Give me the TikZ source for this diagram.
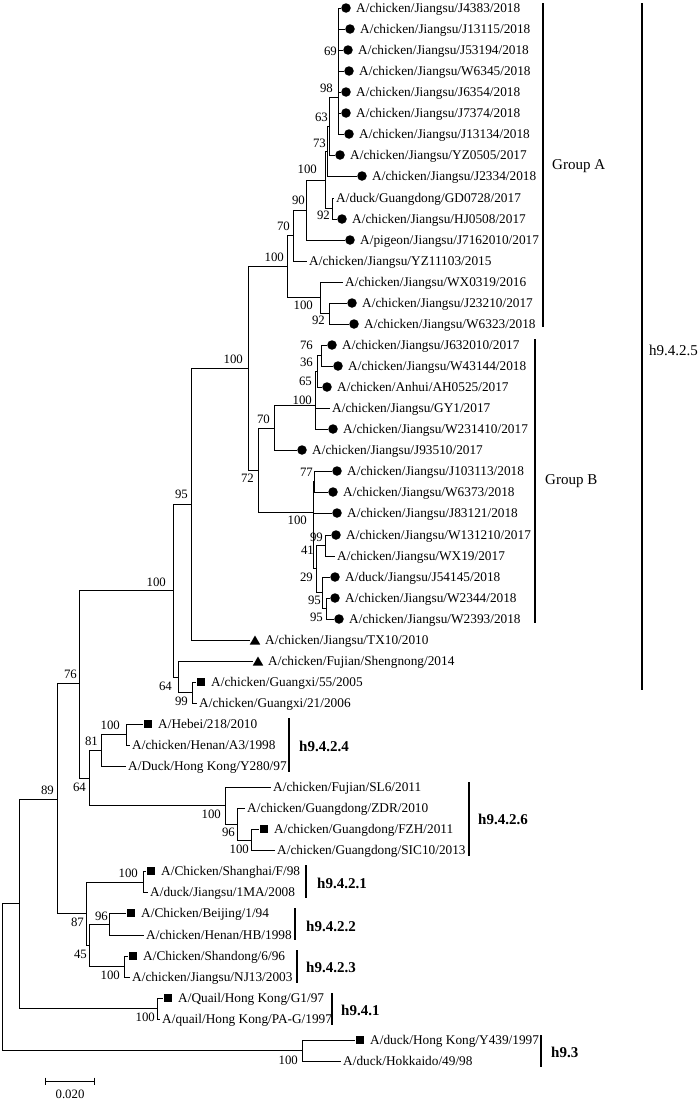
\documentclass[tikz,border=0pt]{standalone}
\usepackage{fontspec}
\setmainfont{Liberation Serif}
\usetikzlibrary{shapes.geometric}
\tikzset{
  br/.style={line width=1pt, black},
  leaflbl/.style={anchor=base west, inner sep=0pt, font=\fontsize{13.3}{14}\selectfont},
  bs/.style={anchor=base east, inner sep=0pt, font=\fontsize{12.8}{13}\selectfont},
  cmark/.style={circle, fill=black, inner sep=0pt, minimum size=9.5pt},
  smark/.style={rectangle, fill=black, inner sep=0pt, minimum size=8.5pt},
  tmark/.style={regular polygon, regular polygon sides=3, fill=black, inner sep=0pt, minimum size=12pt, yshift=-1.5pt},
  cbar/.style={line width=1.3pt},
  clbl/.style={anchor=west, inner sep=0pt, font=\fontsize{15}{16}\selectfont},
  clblb/.style={anchor=west, inner sep=0pt, font=\bfseries\fontsize{15}{16}\selectfont},
}
\newcommand\leafm[5]{\coordinate (t#1) at ({#3-15},#2); \node[#4] (m#1) at ({#3-10},#2) {}; \node[leaflbl] (l#1) at (#3,{#2+4.4}) {#5};}
\newcommand\leafn[4]{\coordinate (t#1) at ({#3-2},#2); \node[leaflbl] (l#1) at (#3,{#2+4.4}) {#4};}
\newcommand\bsv[4]{\node[bs] (b#1) at (#2,{#3+4.3}) {#4};}
\begin{document}
\begin{tikzpicture}[x=1pt,y=-1pt]
\useasboundingbox (0,0) rectangle (700,1100);
% leaves
\leafm{1}{8}{356}{cmark}{A/chicken/Jiangsu/J4383/2018}
\leafm{2}{29}{360}{cmark}{A/chicken/Jiangsu/J13115/2018}
\leafm{3}{50}{358}{cmark}{A/chicken/Jiangsu/J53194/2018}
\leafm{4}{71}{359}{cmark}{A/chicken/Jiangsu/W6345/2018}
\leafm{5}{92}{356}{cmark}{A/chicken/Jiangsu/J6354/2018}
\leafm{6}{113}{356}{cmark}{A/chicken/Jiangsu/J7374/2018}
\leafm{7}{134}{359}{cmark}{A/chicken/Jiangsu/J13134/2018}
\leafm{8}{155}{350}{cmark}{A/chicken/Jiangsu/YZ0505/2017}
\leafm{9}{176}{372}{cmark}{A/chicken/Jiangsu/J2334/2018}
\leafn{10}{198}{336}{A/duck/Guangdong/GD0728/2017}
\leafm{11}{219}{352}{cmark}{A/chicken/Jiangsu/HJ0508/2017}
\leafm{12}{240}{360}{cmark}{A/pigeon/Jiangsu/J7162010/2017}
\leafn{13}{261}{309}{A/chicken/Jiangsu/YZ11103/2015}
\leafn{14}{282}{345}{A/chicken/Jiangsu/WX0319/2016}
\leafm{15}{303}{362}{cmark}{A/chicken/Jiangsu/J23210/2017}
\leafm{16}{324}{364}{cmark}{A/chicken/Jiangsu/W6323/2018}
\leafm{17}{345}{342}{cmark}{A/chicken/Jiangsu/J632010/2017}
\leafm{18}{366}{348}{cmark}{A/chicken/Jiangsu/W43144/2018}
\leafm{19}{387}{337}{cmark}{A/chicken/Anhui/AH0525/2017}
\leafn{20}{408}{332}{A/chicken/Jiangsu/GY1/2017}
\leafm{21}{429}{343}{cmark}{A/chicken/Jiangsu/W231410/2017}
\leafm{22}{450}{312}{cmark}{A/chicken/Jiangsu/J93510/2017}
\leafm{23}{471}{347}{cmark}{A/chicken/Jiangsu/J103113/2018}
\leafm{24}{492}{343}{cmark}{A/chicken/Jiangsu/W6373/2018}
\leafm{25}{513}{347}{cmark}{A/chicken/Jiangsu/J83121/2018}
\leafm{26}{535}{346}{cmark}{A/chicken/Jiangsu/W131210/2017}
\leafn{27}{556}{337}{A/chicken/Jiangsu/WX19/2017}
\leafm{28}{577}{345}{cmark}{A/duck/Jiangsu/J54145/2018}
\leafm{29}{598}{345}{cmark}{A/chicken/Jiangsu/W2344/2018}
\leafm{30}{619}{349}{cmark}{A/chicken/Jiangsu/W2393/2018}
\leafm{31}{640}{265}{tmark}{A/chicken/Jiangsu/TX10/2010}
\leafm{32}{661}{268}{tmark}{A/chicken/Fujian/Shengnong/2014}
\leafm{33}{682}{211}{smark}{A/chicken/Guangxi/55/2005}
\leafn{34}{703}{199}{A/chicken/Guangxi/21/2006}
\leafm{35}{724}{158}{smark}{A/Hebei/218/2010}
\leafn{36}{745}{132}{A/chicken/Henan/A3/1998}
\leafn{37}{766}{128}{A/Duck/Hong Kong/Y280/97}
\leafn{38}{787}{273}{A/chicken/Fujian/SL6/2011}
\leafn{39}{808}{247}{A/chicken/Guangdong/ZDR/2010}
\leafm{40}{829}{274}{smark}{A/chicken/Guangdong/FZH/2011}
\leafn{41}{850}{277}{A/chicken/Guangdong/SIC10/2013}
\leafm{42}{871}{161}{smark}{A/Chicken/Shanghai/F/98}
\leafn{43}{892}{150}{A/duck/Jiangsu/1MA/2008}
\leafm{44}{913}{141}{smark}{A/Chicken/Beijing/1/94}
\leafn{45}{935}{146}{A/chicken/Henan/HB/1998}
\leafm{46}{956}{143}{smark}{A/Chicken/Shandong/6/96}
\leafn{47}{977}{132}{A/chicken/Jiangsu/NJ13/2003}
\leafm{48}{998}{178}{smark}{A/Quail/Hong Kong/G1/97}
\leafn{49}{1019}{162}{A/quail/Hong Kong/PA-G/1997}
\leafm{50}{1040}{370}{smark}{A/duck/Hong Kong/Y439/1997}
\leafn{51}{1061}{343}{A/duck/Hokkaido/49/98}
% internal nodes
\coordinate (c1) at (338,97);
\coordinate (n63) at (329,126);
\coordinate (n73) at (327,151);
\coordinate (n100a) at (325,180);
\coordinate (n92) at (332,208);
\coordinate (n90) at (306,210);
\coordinate (n70) at (293,235);
\coordinate (nWX) at (320,297);
\coordinate (n92b) at (329,313);
\coordinate (nA) at (287,266);
\coordinate (n76b) at (321,355);
\coordinate (n65) at (317,371);
\coordinate (n100d) at (315,405);
\coordinate (n70b) at (274,428);
\coordinate (n77) at (314,481);
\coordinate (n99) at (325,545);
\coordinate (n95b) at (326,608);
\coordinate (n29) at (322,592);
\coordinate (n41) at (316,568);
\coordinate (n100c) at (313,512);
\coordinate (nB) at (258,470);
\coordinate (nAB) at (248,368);
\coordinate (n95) at (191,504);
\coordinate (n99b) at (192,692);
\coordinate (n64) at (178,677);
\coordinate (n100e) at (173,590);
\coordinate (n100g) at (126,734);
\coordinate (n81) at (101,750);
\coordinate (n100j) at (251,840);
\coordinate (n96c) at (237,824);
\coordinate (n100f) at (225,805);
\coordinate (n64c) at (89,778);
\coordinate (n76) at (79,683);
\coordinate (n100h) at (143,882);
\coordinate (n96) at (109,924);
\coordinate (n100i) at (124,966);
\coordinate (n45) at (89,945);
\coordinate (n87) at (86,913);
\coordinate (n89) at (57,799);
\coordinate (nQ) at (157,1008);
\coordinate (n19) at (19,903);
\coordinate (n93) at (302,1050);
\coordinate (root) at (2,977);
% branches
\draw[br] (c1) |- (t1) (c1) |- (t2) (c1) |- (t3) (c1) |- (t4) (c1) |- (t5) (c1) |- (t6) (c1) |- (t7);
\draw[br] (n63) |- (c1) (n63) |- (t8);
\draw[br] (n73) |- (n63) (n73) |- (t9);
\draw[br] (n100a) |- (n73) (n100a) |- (n92);
\draw[br] (n92) |- (t10) (n92) |- (t11);
\draw[br] (n90) |- (n100a) (n90) |- (t12);
\draw[br] (n70) |- (n90) (n70) |- (t13);
\draw[br] (nWX) |- (t14) (nWX) |- (n92b);
\draw[br] (n92b) |- (t15) (n92b) |- (t16);
\draw[br] (nA) |- (n70) (nA) |- (nWX);
\draw[br] (n76b) |- (t17) (n76b) |- (t18);
\draw[br] (n65) |- (n76b) (n65) |- (t19);
\draw[br] (n100d) |- (n65) (n100d) |- (t20) (n100d) |- (t21);
\draw[br] (n70b) |- (n100d) (n70b) |- (t22);
\draw[br] (n77) |- (t23) (n77) |- (t24);
\draw[br] (n99) |- (t26) (n99) |- (t27);
\draw[br] (n95b) |- (t29) (n95b) |- (t30);
\draw[br] (n29) |- (t28) (n29) |- (n95b);
\draw[br] (n41) |- (n99) (n41) |- (n29);
\draw[br] (n100c) |- (n77) (n100c) |- (t25) (n100c) |- (n41);
\draw[br] (nB) |- (n70b) (nB) |- (n100c);
\draw[br] (nAB) |- (nA) (nAB) |- (nB);
\draw[br] (n95) |- (nAB) (n95) |- (t31);
\draw[br] (n99b) |- (t33) (n99b) |- (t34);
\draw[br] (n64) |- (t32) (n64) |- (n99b);
\draw[br] (n100e) |- (n95) (n100e) |- (n64);
\draw[br] (n100g) |- (t35) (n100g) |- (t36);
\draw[br] (n81) |- (n100g) (n81) |- (t37);
\draw[br] (n100j) |- (t40) (n100j) |- (t41);
\draw[br] (n96c) |- (t39) (n96c) |- (n100j);
\draw[br] (n100f) |- (t38) (n100f) |- (n96c);
\draw[br] (n64c) |- (n81) (n64c) |- (n100f);
\draw[br] (n76) |- (n100e) (n76) |- (n64c);
\draw[br] (n100h) |- (t42) (n100h) |- (t43);
\draw[br] (n96) |- (t44) (n96) |- (t45);
\draw[br] (n100i) |- (t46) (n100i) |- (t47);
\draw[br] (n45) |- (n96) (n45) |- (n100i);
\draw[br] (n87) |- (n100h) (n87) |- (n45);
\draw[br] (n89) |- (n76) (n89) |- (n87);
\draw[br] (nQ) |- (t48) (nQ) |- (t49);
\draw[br] (n19) |- (n89) (n19) |- (nQ);
\draw[br] (n93) |- (t50) (n93) |- (t51);
\draw[br] (root) |- (n19) (root) |- (n93);
% bootstrap values
\bsv{1}{337}{51}{69}
\bsv{2}{333}{88}{98}
\bsv{3}{328}{117}{63}
\bsv{4}{326}{143}{73}
\bsv{5}{317}{169}{100}
\bsv{6}{330}{215}{92}
\bsv{7}{305}{200}{90}
\bsv{8}{290}{226}{70}
\bsv{9}{284}{257}{100}
\bsv{10}{313}{305}{100}
\bsv{11}{325}{320}{92}
\bsv{12}{313}{345}{76}
\bsv{13}{313}{362}{36}
\bsv{14}{312}{381}{65}
\bsv{15}{312}{400}{100}
\bsv{16}{270}{419}{70}
\bsv{17}{243}{359}{100}
\bsv{18}{254}{478}{72}
\bsv{19}{313}{472}{77}
\bsv{20}{307}{520}{100}
\bsv{21}{323}{537}{99}
\bsv{22}{314}{550}{41}
\bsv{23}{313}{577}{29}
\bsv{24}{321}{600}{95}
\bsv{25}{323}{617}{95}
\bsv{26}{188}{494}{95}
\bsv{27}{166}{582}{100}
\bsv{28}{172}{686}{64}
\bsv{29}{188}{701}{99}
\bsv{30}{77}{674}{76}
\bsv{31}{120}{725}{100}
\bsv{32}{98}{741}{81}
\bsv{33}{86}{787}{64}
\bsv{34}{221}{814}{100}
\bsv{35}{235}{832}{96}
\bsv{36}{249}{849}{100}
\bsv{37}{54}{790}{89}
\bsv{38}{138}{873}{100}
\bsv{39}{84}{922}{87}
\bsv{40}{108}{916}{96}
\bsv{41}{87}{954}{45}
\bsv{42}{120}{975}{100}
\bsv{43}{155}{1017}{100}
\bsv{44}{298}{1060}{100}
% clade bars
\coordinate (gAt) at (543,3); \coordinate (gAb) at (543,327);
\draw[cbar] (gAt) -- (gAb);
\node[clbl] (gA) at (552,166) {Group A};
\coordinate (gBt) at (535,339); \coordinate (gBb) at (535,623);
\draw[cbar] (gBt) -- (gBb);
\node[clbl] (gB) at (545,481) {Group B};
\coordinate (h5t) at (642,3); \coordinate (h5b) at (642,690);
\draw[cbar] (h5t) -- (h5b);
\node[clbl] (h5) at (649,350) {h9.4.2.5};
\coordinate (h4t) at (289,718); \coordinate (h4b) at (289,772);
\draw[cbar] (h4t) -- (h4b);
\node[clblb] (h4) at (299,746) {h9.4.2.4};
\coordinate (h6t) at (469,782); \coordinate (h6b) at (469,856);
\draw[cbar] (h6t) -- (h6b);
\node[clblb] (h6) at (478,819) {h9.4.2.6};
\coordinate (h1t) at (306,865); \coordinate (h1b) at (306,898);
\draw[cbar] (h1t) -- (h1b);
\node[clblb] (h1) at (317,883) {h9.4.2.1};
\coordinate (h2t) at (295,908); \coordinate (h2b) at (295,940);
\draw[cbar] (h2t) -- (h2b);
\node[clblb] (h2) at (306,926) {h9.4.2.2};
\coordinate (h3t) at (297,950); \coordinate (h3b) at (297,983);
\draw[cbar] (h3t) -- (h3b);
\node[clblb] (h3) at (306,967) {h9.4.2.3};
\coordinate (q1t) at (332,993); \coordinate (q1b) at (332,1025);
\draw[cbar] (q1t) -- (q1b);
\node[clblb] (q1) at (341,1010) {h9.4.1};
\coordinate (q3t) at (541,1035); \coordinate (q3b) at (541,1067);
\draw[cbar] (q3t) -- (q3b);
\node[clblb] (q3) at (551,1052) {h9.3};
% scale bar
\coordinate (sbl) at (45,1081); \coordinate (sbr) at (94,1081);
\draw[br] (sbl) -- (sbr);
\draw[br] ([yshift=3.5pt]sbl) -- ([yshift=-3.5pt]sbl);
\draw[br] ([yshift=3.5pt]sbr) -- ([yshift=-3.5pt]sbr);
\node[inner sep=0pt, font=\fontsize{12.8}{13}\selectfont] (sbt) at (70,1094) {0.020};
\end{tikzpicture}
\end{document}
